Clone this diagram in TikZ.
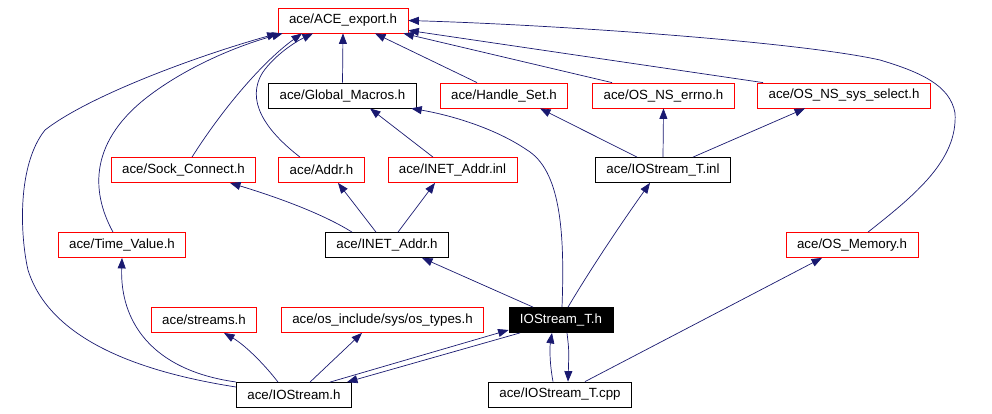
\documentclass[tikz,border=0pt]{standalone}
\usepackage{fontspec}
\setmainfont{Liberation Sans}
\usepackage{xcolor}
\usetikzlibrary{arrows.meta, positioning, calc}
\definecolor{edgeblue}{RGB}{25, 25, 112}
\definecolor{hdrred}{RGB}{255, 0, 0}

\tikzset{
    file/.style={draw, line width=0.8pt, inner xsep=11pt, inner ysep=0pt,
        minimum height=25pt, font=\fontsize{13.3}{15}\selectfont},
    redfile/.style={file, draw=hdrred},
    mainfile/.style={file, fill=black, text=white},
    dep/.style={draw=edgeblue, line width=0.7pt, -{Triangle[length=10.5pt, width=8pt]}}
}

\begin{document}
\begin{tikzpicture}[x=1pt, y=-1pt]
    \useasboundingbox (0, 0) rectangle (992, 413);

    % top row
    \node[redfile] (ace) at (343, 20.5) {ace/ACE\_export.h};

    % second row
    \node[file] (gm) at (342.5, 95.5) {ace/Global\_Macros.h};
    \node[redfile] (hs) at (504, 95.5) {ace/Handle\_Set.h};
    \node[redfile] (errno) at (663.5, 95.5) {ace/OS\_NS\_errno.h};
    \node[redfile] (sel) at (844, 95.5) {ace/OS\_NS\_sys\_select.h};

    % third row
    \node[redfile] (sock) at (183.5, 170) {ace/Sock\_Connect.h};
    \node[redfile] (addr) at (321.5, 170) {ace/Addr.h};
    \node[redfile] (inl) at (452.5, 170) {ace/INET\_Addr.inl};
    \node[file] (tinl) at (663, 170) {ace/IOStream\_T.inl};

    % fourth row
    \node[redfile] (tv) at (122, 245) {ace/Time\_Value.h};
    \node[file] (inet) at (387, 245) {ace/INET\_Addr.h};
    \node[redfile] (omem) at (852, 245) {ace/OS\_Memory.h};

    % fifth row
    \node[redfile] (streams) at (204, 320) {ace/streams.h};
    \node[redfile] (ostypes) at (382.5, 320) {ace/os\_include/sys/os\_types.h};
    \node[mainfile] (th) at (561, 320) {IOStream\_T.h};

    % bottom row
    \node[file] (ios) at (294, 395) {ace/IOStream.h};
    \node[file] (cpp) at (560, 394.5) {ace/IOStream\_T.cpp};

    % includes of ACE_export.h
    \draw[dep] ([xshift=16pt]omem.north) .. controls (915, 195) and (958, 160) .. (955, 113)
        .. controls (950, 85) and (920, 72) .. (880, 60)
        .. controls (800, 42) and (560, 25) .. (ace.east);
    \draw[dep] ([xshift=-81pt]sel.north) -- ([yshift=3pt]ace.south east);
    \draw[dep] ([xshift=-51.5pt]errno.north) -- ([xshift=-5pt]ace.south east);
    \draw[dep] ([xshift=-27pt]hs.north) -- ([xshift=32pt]ace.south);
    \draw[dep] (gm.north) -- (ace.south);
    \draw[dep] ([xshift=8.5pt]sock.north) .. controls (225, 105) and (265, 60) .. ([xshift=-41pt]ace.south);
    \draw[dep] ([xshift=-21.5pt]addr.north) .. controls (265, 130) and (245, 100) .. (263, 72)
        .. controls (275, 55) and (295, 42) .. ([xshift=-30pt]ace.south);
    \draw[dep] ([xshift=-9pt]tv.north) .. controls (90, 190) and (90, 140) .. (150, 95)
        .. controls (190, 65) and (240, 45) .. ([xshift=5pt]ace.south west);
    \draw[dep] ([yshift=8pt]ios.west) .. controls (140, 372) and (50, 340) .. (28, 270)
        .. controls (20, 235) and (17, 165) .. (45, 130)
        .. controls (90, 95) and (200, 55) .. (ace.south west);

    % INET_Addr.h and INET_Addr.inl
    \draw[dep] ([xshift=-35pt]inet.north) .. controls (320, 212) and (270, 195) .. ([xshift=46.5pt]sock.south);
    \draw[dep] ([xshift=-11pt]inet.north) -- ([xshift=16.5pt]addr.south);
    \draw[dep] ([xshift=11pt]inet.north) -- ([xshift=-17.5pt]inl.south);
    \draw[dep] ([xshift=-19.5pt]inl.north) -- ([xshift=27.5pt]gm.south);

    % IOStream_T.h
    \draw[dep] ([xshift=1pt]th.north) .. controls (565, 230) and (560, 170) .. (527, 150)
        .. controls (495, 128) and (450, 115) .. ([xshift=-5.5pt]gm.south east);
    \draw[dep] ([xshift=-28pt]th.north) -- ([xshift=35pt]inet.south);
    \draw[dep] ([xshift=7pt]th.north) .. controls (590, 270) and (620, 225) .. ([xshift=-13pt]tinl.south);
    \draw[dep] ([xshift=-41pt]th.south) -- ([xshift=-5pt]ios.north east);
    \draw[dep] ([xshift=6pt]th.south) .. controls (569, 350) .. ([xshift=8pt]cpp.north);

    % IOStream_T.inl
    \draw[dep] ([xshift=-26pt]tinl.north) -- ([xshift=36pt]hs.south);
    \draw[dep] (tinl.north) -- (errno.south);
    \draw[dep] ([xshift=30pt]tinl.north) -- ([xshift=-39pt]sel.south);

    % IOStream.h
    \draw[dep] ([yshift=13pt]ios.west) .. controls (150, 370) and (120, 320) .. (tv.south);
    \draw[dep] ([xshift=-16pt]ios.north) .. controls (265, 365) and (245, 345) .. ([xshift=20pt]streams.south);
    \draw[dep] ([xshift=16pt]ios.north) -- ([xshift=-20.5pt]ostypes.south);
    \draw[dep] ([xshift=36pt]ios.north) -- ([yshift=-10pt]th.west);

    % IOStream_T.cpp
    \draw[dep] ([xshift=-7pt]cpp.north) .. controls (549, 360) and (550, 345) .. ([xshift=-9pt]th.south);
    \draw[dep] ([xshift=25pt]cpp.north) -- ([xshift=-30pt]omem.south);
\end{tikzpicture}
\end{document}
